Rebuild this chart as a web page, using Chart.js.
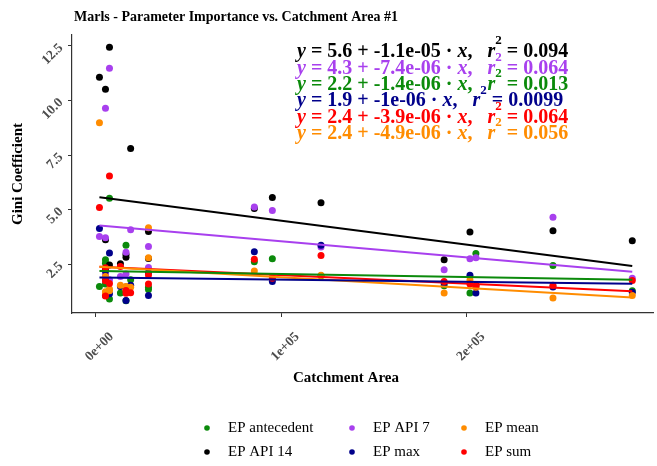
<!DOCTYPE html>
<html>
<head>
<meta charset="utf-8">
<script src="https://cdn.jsdelivr.net/npm/chart.js@4.4.1/dist/chart.umd.min.js"></script>
<style>
  html, body { margin: 0; padding: 0; background: #ffffff; }
  canvas { display: block; }
</style>
</head>
<body>
<canvas id="myChart" width="657" height="466"></canvas>
<script>
// catchment area of each site, shared by all six parameters
var catchment = [2100, 5350, 5350, 5350, 7500, 7500, 13400, 16400, 16400, 18900, 28500, 28500,
                 85500, 95200, 121400, 187700, 201600, 204800, 246300, 289000]

// gini coefficient per parameter, one value per site
var epAntecedent = [1.49, 2.71, 2.55, 1.60, 5.53, 0.91, 1.19, 3.38, 0.83, 1.80, 1.45, 1.35,
                    2.62, 2.76, 1.98, 1.52, 1.19, 3.00, 2.45, 1.29]
var epApi14 = [11.07, 10.52, 3.63, 2.27, 12.44, 2.47, 2.53, 2.95, 2.83, 7.80, 4.00, 2.77,
               5.06, 5.56, 5.32, 2.71, 3.98, 1.54, 4.04, 3.58]
var epApi7 = [3.78, 9.65, 3.72, 2.05, 11.48, 1.80, 1.95, 3.05, 2.06, 4.08, 3.32, 2.36,
              5.13, 4.97, 3.29, 2.25, 2.76, 2.80, 4.66, 1.87]
var epMax = [4.14, 1.07, 1.80, 2.20, 3.02, 1.15, 1.49, 0.85, 1.46, 1.55, 2.13, 1.08,
             3.08, 1.72, 3.38, 1.65, 2.00, 1.19, 1.46, 1.22]
var epMean = [8.98, 1.25, 1.20, 1.95, 1.37, 1.29, 1.55, 1.49, 1.35, 1.45, 4.18, 2.80,
              2.20, 1.95, 2.00, 1.19, 1.78, 1.45, 0.96, 1.08]
var epSum = [5.10, 1.05, 1.75, 2.35, 6.54, 1.62, 2.40, 1.30, 1.18, 1.20, 2.01, 1.60,
             2.74, 1.87, 2.91, 1.72, 1.60, 1.50, 1.55, 1.76]

var seriesNames = ['EP antecedent', 'EP API 14', 'EP API 7', 'EP max', 'EP mean', 'EP sum']
var seriesValues = [epAntecedent, epApi14, epApi7, epMax, epMean, epSum]
var seriesColors = ['#0b8a0b', '#000000', '#a840ee', '#00008b', '#ff8c00', '#ff0000']

// linear fit labels (intercept, slope, r squared), same order as seriesNames
var fitIntercept = ['2.2', '5.6', '4.3', '1.9', '2.4', '2.4']
var fitSlope = ['-1.4e-06', '-1.1e-05', '-7.4e-06', '-1e-06', '-4.9e-06', '-3.9e-06']
var fitR2 = ['0.013', '0.094', '0.064', '0.0099', '0.056', '0.064']
// order the equations are stacked in
var eqOrder = [1, 2, 0, 3, 5, 4]

var xTickValues = [0, 100000, 200000]
var xTickLabels = ['0e+00', '1e+05', '2e+05']
var yTickValues = [2.5, 5.0, 7.5, 10.0, 12.5]
var yTickLabels = ['2.5', '5.0', '7.5', '10.0', '12.5']

var serif = "'Liberation Serif', 'DejaVu Serif', serif"
var xMin = Math.min.apply(null, catchment)
var xMax = Math.max.apply(null, catchment)

var datasets = []
// fitted lines first so they sit on top of the points
for (var i = 0; i < seriesNames.length; i++) {
    var a = parseFloat(fitIntercept[i])
    var b = parseFloat(fitSlope[i])
    datasets.push({
        type: 'line',
        label: seriesNames[i] + ' fit',
        data: [{ x: xMin, y: a + b * xMin }, { x: xMax, y: a + b * xMax }],
        borderColor: seriesColors[i],
        borderWidth: 2,
        pointRadius: 0,
        fill: false,
        order: 0
    })
}
for (var i = 0; i < seriesNames.length; i++) {
    datasets.push({
        type: 'scatter',
        label: seriesNames[i],
        data: catchment.map(function (c, k) { return { x: c, y: seriesValues[i][k] } }),
        backgroundColor: seriesColors[i],
        borderWidth: 0,
        pointRadius: 3.5,
        order: 6 - i
    })
}

// title, axis titles, equations and legend
var textPlugin = {
    id: 'textPlugin',
    afterDraw: function (chart) {
        var ctx = chart.ctx
        ctx.save()
        ctx.fillStyle = '#000'
        ctx.textBaseline = 'middle'
        ctx.textAlign = 'left'
        ctx.font = 'bold 14px ' + serif
        ctx.fillText('Marls - Parameter Importance vs. Catchment Area #1', 74, 17)

        ctx.textAlign = 'center'
        ctx.font = 'bold 15px ' + serif
        ctx.fillText('Catchment Area', 346, 378)
        ctx.save()
        ctx.translate(18, 174)
        ctx.rotate(-Math.PI / 2)
        ctx.fillText('Gini Coefficient', 0, 0)
        ctx.restore()

        // regression equations
        ctx.textAlign = 'left'
        for (var r = 0; r < eqOrder.length; r++) {
            var s = eqOrder[r]
            var x = 297
            var y = 52 + r * 16.4
            ctx.fillStyle = seriesColors[s]
            var parts = [
                ['y', 'it'], [' = ' + fitIntercept[s] + ' + ' + fitSlope[s] + ' \u00b7 ', ''], ['x', 'it'],
                [',   ', ''], ['r', 'it'], ['2', 'sup'], [' = ' + fitR2[s], '']
            ]
            parts.forEach(function (p) {
                var dy = 0
                if (p[1] === 'it') ctx.font = 'italic bold 20px ' + serif
                else if (p[1] === 'sup') { ctx.font = 'bold 13px ' + serif; dy = -11 }
                else ctx.font = 'bold 20px ' + serif
                ctx.fillText(p[0], x, y + dy)
                x += ctx.measureText(p[0]).width
            })
        }

        // legend, filled column by column
        ctx.font = '15px ' + serif
        var colX = [207, 352, 464]
        var rowY = [428, 452]
        for (var i = 0; i < seriesNames.length; i++) {
            var cx = colX[Math.floor(i / 2)]
            var cy = rowY[i % 2]
            ctx.fillStyle = seriesColors[i]
            ctx.beginPath()
            ctx.arc(cx, cy, 2.8, 0, Math.PI * 2)
            ctx.fill()
            ctx.fillStyle = '#000'
            ctx.fillText(seriesNames[i], cx + 21, cy)
        }
        ctx.restore()
    }
}

var tickFont = { family: serif, size: 13.5, weight: 'bold' }

var ctx = document.getElementById('myChart').getContext('2d')
var chart = new Chart(ctx, {
    data: { datasets: datasets },
    options: {
        responsive: false,
        animation: false,
        devicePixelRatio: 1,
        layout: { padding: { left: 0, top: 35, right: 0, bottom: 0 } },
        plugins: { legend: { display: false }, tooltip: { enabled: false } },
        scales: {
            x: {
                type: 'linear',
                min: -12674,
                max: 300160,
                afterBuildTicks: function (scale) {
                    scale.ticks = xTickValues.map(function (v) { return { value: v } })
                },
                afterFit: function (scale) {
                    scale.height = 153
                    scale.paddingLeft = 0
                    scale.paddingRight = 0
                },
                ticks: {
                    minRotation: 45,
                    maxRotation: 45,
                    autoSkip: false,
                    font: tickFont,
                    color: '#4d4d4d',
                    padding: 12,
                    labelOffset: 16,
                    callback: function (v) { return xTickLabels[xTickValues.indexOf(v)] }
                },
                grid: { drawOnChartArea: false, drawTicks: true, tickLength: 4, color: '#333333' },
                border: { display: true, color: '#333333', width: 1.2 }
            },
            y: {
                type: 'linear',
                min: 0.274,
                max: 13.0,
                afterBuildTicks: function (scale) {
                    scale.ticks = yTickValues.map(function (v) { return { value: v } })
                },
                afterFit: function (scale) {
                    scale.width = 72
                    scale.paddingTop = 0
                    scale.paddingBottom = 0
                },
                ticks: {
                    minRotation: 45,
                    maxRotation: 45,
                    font: tickFont,
                    color: '#4d4d4d',
                    padding: 7,
                    labelOffset: 0,
                    callback: function (v) { return yTickLabels[yTickValues.indexOf(v)] }
                },
                grid: { drawOnChartArea: false, drawTicks: true, tickLength: 4, color: '#333333' },
                border: { display: true, color: '#333333', width: 1.2 }
            }
        }
    },
    plugins: [textPlugin]
});
</script>
</body>
</html>
